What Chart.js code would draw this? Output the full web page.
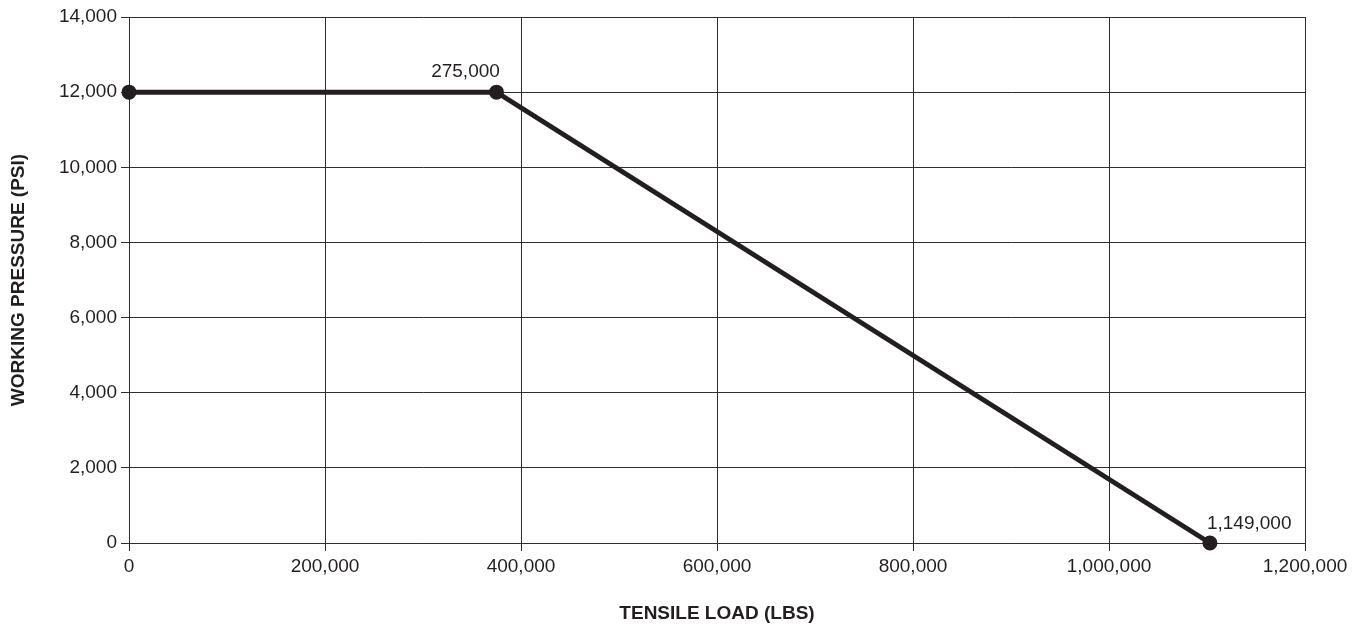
<!DOCTYPE html>
<html>
<head>
    <title>Working Pressure vs Tensile Load</title>
    <script src="https://cdn.jsdelivr.net/npm/chart.js"></script>
    <style>
        html, body { margin: 0; padding: 0; background: #fff; }
        #wrap { width: 1368px; height: 627px; }
    </style>
</head>
<body>
    <div id="wrap"><canvas id="pressureChart"></canvas></div>
    <script>
        // values
        const tensileLoad = [0, 375000, 1103000];
        const workingPressure = [12000, 12000, 0];
        const pointLabels = ['', '275,000', '1,149,000'];
        const xTitle = 'TENSILE LOAD (LBS)';
        const yTitle = 'WORKING PRESSURE (PSI)';

        const ink = '#231f20';
        const gridInk = '#2e2e2e';
        const fontFamily = '"Liberation Sans", Arial, sans-serif';

        // draws the text labels next to the points
        const pointLabelPlugin = {
            id: 'pointLabels',
            afterDatasetsDraw(chart, args, opts) {
                const ctx = chart.ctx;
                const meta = chart.getDatasetMeta(0);
                ctx.save();
                ctx.font = '19px ' + fontFamily;
                ctx.fillStyle = ink;
                ctx.textBaseline = 'middle';
                meta.data.forEach((pt, i) => {
                    if (!pointLabels[i]) return;
                    const off = opts.offsets[i];
                    ctx.textAlign = off.align;
                    ctx.fillText(pointLabels[i], pt.x + off.dx, pt.y + off.dy);
                });
                ctx.restore();
            }
        };

        const ctx = document.getElementById('pressureChart').getContext('2d');
        new Chart(ctx, {
            type: 'scatter',
            data: {
                datasets: [{
                    data: tensileLoad.map((x, i) => ({ x: x, y: workingPressure[i] })),
                    showLine: true,
                    clip: false,
                    borderColor: ink,
                    backgroundColor: ink,
                    borderWidth: 5,
                    pointRadius: 5,
                    pointHoverRadius: 5
                }]
            },
            options: {
                responsive: true,
                maintainAspectRatio: false,
                animation: false,
                layout: { padding: { top: 17, right: 63, bottom: 0, left: 0 } },
                plugins: {
                    legend: { display: false },
                    tooltip: { enabled: false },
                    pointLabels: {
                        offsets: [
                            null,
                            { dx: -31, dy: -20, align: 'center' },
                            { dx: -3, dy: -19, align: 'left' }
                        ]
                    }
                },
                scales: {
                    x: {
                        type: 'linear',
                        min: 0,
                        max: 1200000,
                        afterFit(scale) { scale.height = 84; },
                        ticks: {
                            stepSize: 200000,
                            color: ink,
                            padding: 4,
                            font: { family: fontFamily, size: 19 },
                            maxRotation: 0,
                            callback: v => v.toLocaleString('en-US')
                        },
                        grid: { color: gridInk, lineWidth: 1, tickLength: 8 },
                        border: { color: gridInk, width: 1 },
                        title: {
                            display: true,
                            text: xTitle,
                            color: ink,
                            font: { family: fontFamily, size: 19, weight: 'bold' },
                            padding: { top: 20, bottom: 2 }
                        }
                    },
                    y: {
                        type: 'linear',
                        min: 0,
                        max: 14000,
                        afterFit(scale) { scale.width = 129; },
                        ticks: {
                            stepSize: 2000,
                            color: ink,
                            padding: 4,
                            font: { family: fontFamily, size: 19 },
                            callback: v => v.toLocaleString('en-US')
                        },
                        grid: { color: gridInk, lineWidth: 1, tickLength: 8 },
                        border: { color: gridInk, width: 1 },
                        title: {
                            display: true,
                            text: yTitle,
                            color: ink,
                            font: { family: fontFamily, size: 19, weight: 'bold' },
                            padding: { top: 7, bottom: 0 }
                        }
                    }
                }
            },
            plugins: [pointLabelPlugin]
        });
    </script>
</body>
</html>
